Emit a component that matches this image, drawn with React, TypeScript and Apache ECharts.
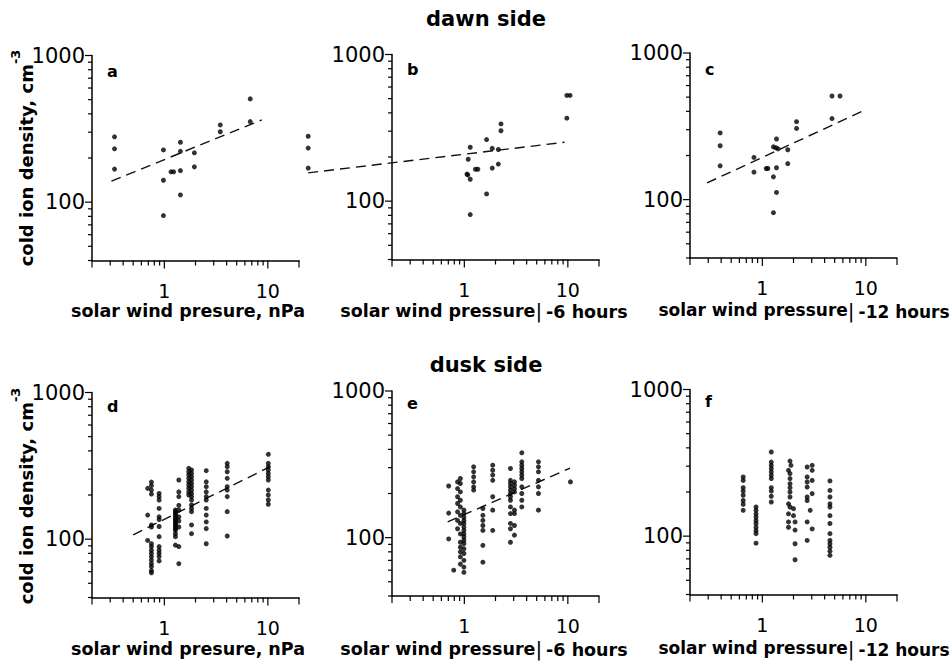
import React, { useEffect, useRef } from 'react';
import * as echarts from 'echarts';

// ---- axis ranges & ticks ----
const X_MIN = 0.2;
const X_MAX = 20;
const Y_MIN = 40;
const Y_MAX = 1000;
const xMajorTicks = [1, 10];
const xEndTicks = [0.2, 20];
const xMinorTicks = [0.3, 0.4, 0.5, 0.6, 0.7, 0.8, 0.9, 2, 3, 4, 5, 6, 7, 8, 9];
const yMajorTicks = [100, 1000];
const yMinorTicks = [40, 50, 60, 70, 80, 90, 200, 300, 400, 500, 600, 700, 800, 900];
const xTickLabels = ['1', '10'];
const yTickLabels = ['100', '1000'];

// ---- dawn side data (x: solar wind pressure nPa, y: cold ion density cm^-3) ----
const dawnA: [number, number][] = [
  [0.33, 279], [0.33, 231], [0.33, 168], [0.98, 227], [0.98, 141], [0.98, 81],
  [1.16, 161], [1.23, 161], [1.43, 256], [1.43, 222], [1.43, 164], [1.43, 112],
  [1.95, 217], [1.95, 174], [3.47, 336], [3.47, 302], [6.76, 506], [6.76, 354],
];
const dawnB: [number, number][] = [
  [0.031, 277], [0.031, 230], [0.031, 168], [1.09, 193], [1.06, 153], [1.08, 151],
  [1.14, 233], [1.14, 141], [1.14, 81], [1.28, 165], [1.35, 165], [1.64, 263],
  [1.64, 112], [1.86, 229], [1.86, 168], [2.13, 225], [2.13, 179], [2.26, 336],
  [2.26, 302], [9.78, 526], [10.5, 526], [9.78, 368],
];
const dawnC: [number, number][] = [
  [0.391, 285], [0.391, 233], [0.391, 170], [0.83, 194], [0.83, 154], [1.09, 163],
  [1.13, 163], [1.28, 229], [1.28, 143], [1.28, 81.5], [1.37, 259], [1.35, 226],
  [1.42, 222], [1.37, 165], [1.37, 112], [1.76, 219], [1.76, 176], [2.14, 340],
  [2.14, 306], [4.71, 509], [5.63, 509], [4.71, 357],
];
// fit lines: [x1, y1, x2, y2]
const fitA = [0.308, 139, 8.75, 364];
const fitB = [0.031, 156, 9.29, 252];
const fitC = [0.292, 130, 10, 411];

// ---- dusk side data, by columns [x, y values] ----
const duskD: [number, number[]][] = [
  [0.69, [222, 146, 98]],
  [0.75, [245, 232, 216, 203, 125, 121, 93, 89, 84, 80, 76, 72, 68, 65, 61, 59]],
  [0.89, [205, 195, 185, 162, 142, 136, 122, 104, 89, 84, 80, 76, 71]],
  [1.28, [158, 154, 150, 146, 142, 138, 135, 131, 128, 125, 121, 118, 115, 109, 104, 91]],
  [1.38, [253, 210, 195, 170, 158, 142, 133, 121, 89, 68]],
  [1.72, [304, 288, 274, 260, 246, 234, 222, 210, 200]],
  [1.83, [296, 281, 267, 253, 240, 228, 216, 205, 195, 185, 171, 162, 154, 125, 109]],
  [2.54, [293, 246, 228, 210, 195, 185, 162, 146, 131, 118, 93]],
  [4.05, [329, 312, 288, 260, 228, 216, 195, 154, 105]],
  [10.1, [379, 329, 312, 296, 281, 267, 253, 216, 200, 185, 173]],
];
const duskE: [number, number[]][] = [
  [0.706, [225, 147, 98]],
  [0.79, [60]],
  [0.86, [240, 216, 190, 171, 150, 131, 115]],
  [0.915, [253, 234, 205, 180, 162, 142, 125, 106, 93, 86, 80, 74, 66]],
  [0.99, [154, 146, 138, 131, 125, 118, 112, 106, 101, 96, 91, 84, 78, 70, 63, 58]],
  [1.23, [304, 281, 260, 240, 222, 211]],
  [1.51, [158, 142, 131, 121, 112, 88.6, 68]],
  [1.88, [312, 288, 267, 246, 190, 154, 112]],
  [2.79, [296, 246, 234, 222, 211, 200, 190, 180, 162, 146, 125, 115, 93]],
  [3.05, [240, 228, 216, 205, 154, 146, 121, 104]],
  [3.59, [379, 329, 312, 296, 281, 267, 253, 222, 200, 180, 162]],
  [5.2, [329, 304, 281, 246, 222, 200, 154]],
  [10.6, [240]],
];
const duskF: [number, number[]][] = [
  [0.653, [253, 240, 214, 203, 190, 175, 165, 150]],
  [0.869, [158, 150, 142, 135, 128, 122, 115, 109, 104, 89.5]],
  [1.22, [375, 320, 304, 289, 274, 260, 247, 214, 203, 187, 171]],
  [1.79, [281, 166, 142, 125, 115]],
  [1.85, [325, 267, 247, 228, 214, 200, 185, 158]],
  [1.89, [304]],
  [2.0, [154, 138]],
  [2.07, [125, 110, 88.7, 69]],
  [2.71, [296, 253, 234, 216, 185, 175, 125, 93.5]],
  [2.9, [150]],
  [3.03, [304, 281, 240, 195, 112]],
  [4.5, [238, 205, 185, 166, 158, 138, 122, 104, 93.5, 88.7, 84, 79, 74]],
];
const fitD = [0.5, 107, 10.5, 312];
const fitE = [0.69, 128, 10.5, 298];

const flatten = (cols: [number, number[]][]): [number, number][] =>
  cols.flatMap(([x, ys]) => ys.map((y) => [x, y] as [number, number]));

const FONT = 'DejaVu Sans';

const panels = [
  { left: 92, top: 55.5, pts: dawnA, fit: fitA, letter: 'a', ly: 71 },
  { left: 392, top: 54.5, pts: dawnB, fit: fitB, letter: 'b', ly: 69 },
  { left: 690, top: 53, pts: dawnC, fit: fitC, letter: 'c', ly: 69 },
  { left: 92, top: 392.5, pts: flatten(duskD), fit: fitD, letter: 'd', ly: 406 },
  { left: 392, top: 391, pts: flatten(duskE), fit: fitE, letter: 'e', ly: 403 },
  { left: 690, top: 389.5, pts: flatten(duskF), fit: null, letter: 'f', ly: 401 },
];
const GW = 207;
const GH = 205;

const isDecadeLabel = (v: number, labels: string[]) => {
  const s = String(Math.round(v));
  const l = Math.log10(v);
  return Math.abs(l - Math.round(l)) < 1e-6 && labels.includes(s) ? s : '';
};

function buildOption() {
  const grid: any[] = [];
  const xAxis: any[] = [];
  const yAxis: any[] = [];
  const series: any[] = [];
  const graphic: any[] = [];

  panels.forEach((p, i) => {
    grid.push({ left: p.left, top: p.top, width: GW, height: GH, containLabel: false, outerBoundsMode: 'none' });
    xAxis.push({
      type: 'log', logBase: 10, min: X_MIN, max: X_MAX, gridIndex: i,
      axisLine: { show: true, onZero: false, lineStyle: { color: '#000', width: 1.5 } },
      axisTick: { show: false }, splitLine: { show: false }, minorTick: { show: false },
      axisLabel: {
        show: true, margin: 23, color: '#000', fontFamily: FONT, fontSize: 19, lineHeight: 14,
        showMinLabel: true, showMaxLabel: true,
        formatter: (v: number) => isDecadeLabel(v, xTickLabels),
      },
    });
    yAxis.push({
      type: 'log', logBase: 10, min: Y_MIN, max: Y_MAX, gridIndex: i,
      axisLine: { show: true, onZero: false, lineStyle: { color: '#000', width: 1.5 } },
      axisTick: { show: false }, splitLine: { show: false }, minorTick: { show: false },
      axisLabel: {
        show: true, margin: 7, color: '#000', fontFamily: FONT, fontSize: 21,
        showMinLabel: true, showMaxLabel: true,
        formatter: (v: number) => isDecadeLabel(v, yTickLabels),
      },
    });
    series.push({
      type: 'scatter', xAxisIndex: i, yAxisIndex: i, data: p.pts, symbol: 'circle',
      symbolSize: 5, itemStyle: { color: '#000' }, clip: false, silent: true,
    });
    if (p.fit) {
      series.push({
        type: 'custom', xAxisIndex: i, yAxisIndex: i, data: [p.fit], clip: false, silent: true,
        encode: { x: [0, 2], y: [1, 3] },
        renderItem: (_params: any, api: any) => {
          const a = api.coord([api.value(0), api.value(1)]);
          const b = api.coord([api.value(2), api.value(3)]);
          return {
            type: 'line',
            shape: { x1: a[0], y1: a[1], x2: b[0], y2: b[1] },
            style: { stroke: '#111', lineWidth: 1.4, lineDash: [10, 6], fill: null },
          };
        },
      });
    }
    const xTickData = [
      ...xMinorTicks.map((v) => [v, Y_MIN, 5]),
      ...xMajorTicks.map((v) => [v, Y_MIN, 8]),
      ...xEndTicks.map((v) => [v, Y_MIN, 7]),
    ];
    series.push({
      type: 'custom', xAxisIndex: i, yAxisIndex: i, data: xTickData, clip: false, silent: true,
      encode: { x: 0, y: 1 },
      renderItem: (_params: any, api: any) => {
        const pt = api.coord([api.value(0), api.value(1)]);
        const len = api.value(2);
        return { type: 'line', shape: { x1: pt[0], y1: pt[1], x2: pt[0], y2: pt[1] + len }, style: { stroke: '#000', lineWidth: 1.2 } };
      },
    });
    const yTickData = [
      ...yMinorTicks.map((v) => [X_MIN, v, 4]),
      ...yMajorTicks.map((v) => [X_MIN, v, 7]),
    ];
    series.push({
      type: 'custom', xAxisIndex: i, yAxisIndex: i, data: yTickData, clip: false, silent: true,
      encode: { x: 0, y: 1 },
      renderItem: (_params: any, api: any) => {
        const pt = api.coord([api.value(0), api.value(1)]);
        const len = api.value(2);
        return { type: 'line', shape: { x1: pt[0], y1: pt[1], x2: pt[0] - len, y2: pt[1] }, style: { stroke: '#000', lineWidth: 1.2 } };
      },
    });
    graphic.push({
      type: 'text', x: p.left + 15, y: p.ly,
      style: { text: p.letter, fontFamily: FONT, fontWeight: 'bold', fontSize: 16, fill: '#000', verticalAlign: 'middle' },
    });
  });

  // titles
  graphic.push({
    type: 'text', x: 486, y: 19,
    style: { text: 'dawn side', fontFamily: FONT, fontWeight: 'bold', fontSize: 21, fill: '#000', align: 'center', verticalAlign: 'middle' },
  });
  graphic.push({
    type: 'text', x: 486, y: 365,
    style: { text: 'dusk side', fontFamily: FONT, fontWeight: 'bold', fontSize: 21, fill: '#000', align: 'center', verticalAlign: 'middle' },
  });

  // y axis titles
  [158, 496].forEach((cy) => {
    graphic.push({
      type: 'text', x: 22, y: cy, rotation: Math.PI / 2,
      style: {
        text: '{m|cold ion density, cm}{s|-3}',
        align: 'center', verticalAlign: 'middle',
        rich: {
          m: { fontFamily: FONT, fontWeight: 'bold', fontSize: 18, fill: '#000', lineHeight: 26, verticalAlign: 'bottom' },
          s: { fontFamily: FONT, fontWeight: 'bold', fontSize: 13, fill: '#000', lineHeight: 26, verticalAlign: 'top' },
        },
      },
    });
  });

  // x axis titles
  const rowOffsets = [0, 338];
  rowOffsets.forEach((dy) => {
    graphic.push({
      type: 'text', x: 188, y: 311 + dy,
      style: { text: 'solar wind presure, nPa', fontFamily: FONT, fontWeight: 'bold', fontSize: 17.5, lineHeight: 18, fill: '#000', align: 'center', verticalAlign: 'middle' },
    });
    [{ cx: 484, t: '-6 hours', fs: 17.5 }, { cx: 804, t: '-12 hours', fs: 17 }].forEach((o) => {
      graphic.push({
        type: 'text', x: o.cx, y: 311 + dy,
        style: {
          text: `{m|solar wind pressure}{b||}{s|${o.t}}`,
          align: 'center', verticalAlign: 'middle',
          rich: {
            m: { fontFamily: FONT, fontWeight: 'bold', fontSize: o.fs, fill: '#000', lineHeight: 19, verticalAlign: 'top' },
            b: { fontFamily: FONT, fontWeight: 'normal', fontSize: 20, fill: '#000', lineHeight: 19, verticalAlign: 'middle', padding: [0, 2, 0, 0] },
            s: { fontFamily: FONT, fontWeight: 'bold', fontSize: o.fs, fill: '#000', lineHeight: 19, verticalAlign: 'bottom', padding: [0, 0, 0, 2] },
          },
        },
      });
    });
  });

  return {
    animation: false,
    backgroundColor: '#ffffff',
    grid, xAxis, yAxis, series, graphic,
  };
}

export default function App() {
  const ref = useRef<HTMLDivElement>(null);
  useEffect(() => {
    if (!ref.current) return;
    const chart = echarts.init(ref.current, undefined, { renderer: 'svg' });
    chart.setOption(buildOption() as any);
    return () => chart.dispose();
  }, []);
  return (
    <div
      ref={ref}
      style={{ position: 'fixed', left: 0, top: 0, width: 952, height: 667, background: '#fff' }}
    />
  );
}
